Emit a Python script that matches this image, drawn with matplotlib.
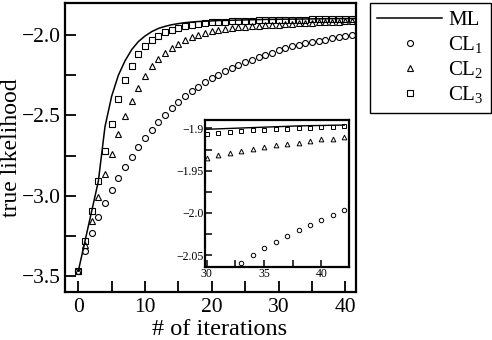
import matplotlib
matplotlib.use("Agg")
import matplotlib.pyplot as plt
from matplotlib.ticker import MultipleLocator, FuncFormatter
import numpy as np

# data
iterations = list(range(0, 43))

ml = [-3.47, -3.283, -3.097, -2.911, -2.57, -2.38, -2.25, -2.16, -2.09, -2.04,
      -2.005, -1.978, -1.958, -1.945, -1.935, -1.928, -1.922, -1.918, -1.915, -1.913,
      -1.911, -1.909, -1.908, -1.907, -1.906, -1.905, -1.904, -1.903, -1.902, -1.9015,
      -1.901, -1.9005, -1.900, -1.8995, -1.899, -1.8985, -1.898, -1.8975, -1.897, -1.8967,
      -1.8965, -1.8962, -1.896]

cl1 = [-3.47, -3.342, -3.230, -3.132, -3.043, -2.963, -2.890, -2.820, -2.757, -2.696,
       -2.638, -2.588, -2.540, -2.496, -2.455, -2.416, -2.381, -2.349, -2.320, -2.293,
       -2.268, -2.245, -2.224, -2.204, -2.186, -2.169, -2.153, -2.138, -2.123, -2.109,
       -2.095, -2.082, -2.070, -2.059, -2.050, -2.042, -2.034, -2.027, -2.020, -2.014,
       -2.008, -2.002, -1.997]

cl2 = [-3.47, -3.31, -3.155, -3.005, -2.865, -2.74, -2.615, -2.505, -2.41, -2.33,
       -2.255, -2.195, -2.15, -2.112, -2.08, -2.053, -2.031, -2.013, -1.999, -1.987,
       -1.977, -1.969, -1.962, -1.956, -1.951, -1.947, -1.944, -1.941, -1.939, -1.937,
       -1.935, -1.932, -1.929, -1.927, -1.924, -1.922, -1.920, -1.918, -1.917, -1.915,
       -1.913, -1.912, -1.910]

cl3 = [-3.47, -3.283, -3.097, -2.911, -2.724, -2.555, -2.40, -2.28, -2.19, -2.12,
       -2.066, -2.03, -2.003, -1.983, -1.966, -1.953, -1.943, -1.935, -1.929, -1.924,
       -1.920, -1.917, -1.915, -1.913, -1.911, -1.910, -1.909, -1.908, -1.907, -1.9065,
       -1.906, -1.905, -1.9044, -1.9032, -1.9024, -1.902, -1.9012, -1.9005, -1.900, -1.8993,
       -1.8988, -1.898, -1.8973]

plt.rcParams['font.family'] = ['Liberation Serif', 'DejaVu Serif']
plt.rcParams['mathtext.fontset'] = 'custom'
plt.rcParams['mathtext.rm'] = 'Liberation Serif'
plt.rcParams['mathtext.it'] = 'Liberation Serif:italic'

fig = plt.figure(figsize=(4.92, 3.40), dpi=100)
ax = fig.add_axes([0.132, 0.141, 0.5915, 0.850])

mk = dict(linestyle='none', markerfacecolor='none', markeredgecolor='black',
          markeredgewidth=0.8)
ax.plot(iterations, ml, color='black', linewidth=1.1, label='ML')
ax.plot(iterations, cl1, marker='o', markersize=4.3, label='CL$_1$', **mk)
ax.plot(iterations, cl2, marker='^', markersize=4.6, label='CL$_2$', **mk)
ax.plot(iterations, cl3, marker='s', markersize=4.3, label='CL$_3$', **mk)

ax.set_xlim(-2, 41.6)
ax.set_ylim(-3.6, -1.8)
ax.xaxis.set_major_locator(MultipleLocator(10))
ax.xaxis.set_minor_locator(MultipleLocator(5))
ax.yaxis.set_major_locator(MultipleLocator(0.5))
ax.yaxis.set_minor_locator(MultipleLocator(0.25))
ax.yaxis.set_major_formatter(FuncFormatter(lambda v, p: f"{v:.1f}".replace('-', '\u2212')))
ax.tick_params(which='both', direction='in', length=8, width=1.3, labelsize=15.5)
ax.tick_params(axis='x', pad=4)
ax.tick_params(axis='y', pad=3)
for s in ax.spines.values():
    s.set_linewidth(1.6)
ax.set_xlabel('# of iterations', fontsize=17.5)
ax.xaxis.set_label_coords(0.533, -0.092, transform=ax.transAxes)
ax.xaxis.label.set_va('top')
ax.set_ylabel('true likelihood', fontsize=17, labelpad=0)

# inset
axin = fig.add_axes([0.4167, 0.2147, 0.2926, 0.4324])
mk_in = dict(mk, markeredgewidth=0.7)
axin.plot(iterations, ml, color='black', linewidth=1.0)
axin.plot(iterations, cl1, marker='o', markersize=3.2, **mk_in)
axin.plot(iterations, cl2, marker='^', markersize=3.4, **mk_in)
axin.plot(iterations, cl3, marker='s', markersize=3.2, **mk_in)
axin.set_xlim(29.85, 42.4)
axin.set_ylim(-2.064, -1.890)
axin.xaxis.set_major_locator(MultipleLocator(5))
axin.xaxis.set_minor_locator(MultipleLocator(2.5))
axin.yaxis.set_major_locator(MultipleLocator(0.05))
axin.yaxis.set_minor_locator(MultipleLocator(0.025))


def short(v, p):
    s = f"{v:.2f}".rstrip('0')
    if s.endswith('.'):
        s += '0'
    return s.replace('-', '\u2212')


axin.yaxis.set_major_formatter(FuncFormatter(short))
axin.tick_params(which='both', direction='in', length=5, width=1.1, labelsize=8.5, pad=1)
for s in axin.spines.values():
    s.set_linewidth(1.6)

fig.legend(loc='upper left', bbox_to_anchor=(0.752, 0.991), fontsize=15,
           handlelength=3.1, handletextpad=0.3, frameon=True, fancybox=False,
           edgecolor='black', framealpha=1, borderaxespad=0, labelspacing=0.2,
           borderpad=0.35)

fig.savefig('out.png', dpi=100)
